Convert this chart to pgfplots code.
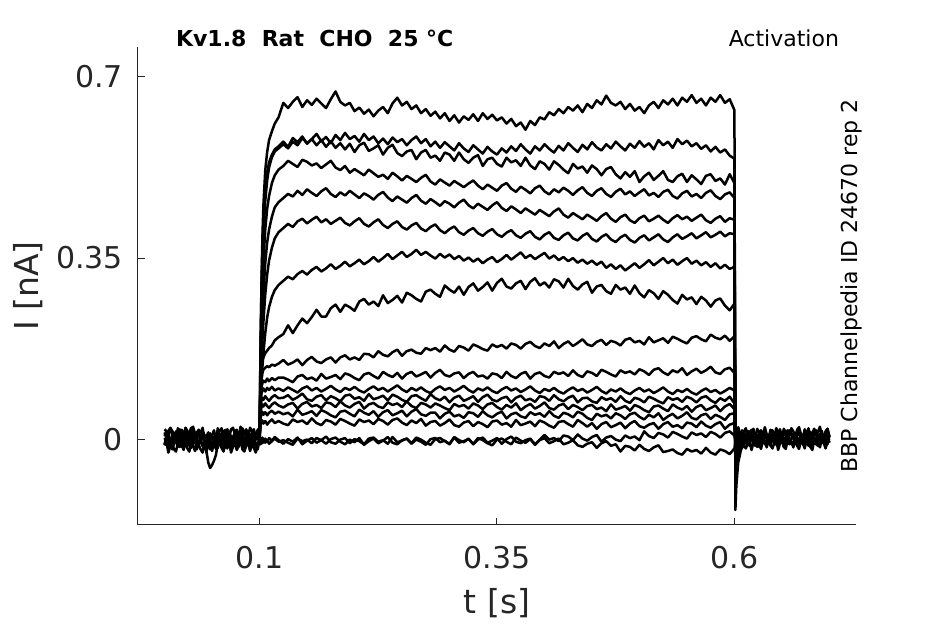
\documentclass[border=0pt]{standalone}
\usepackage{pgfplots}
\pgfplotsset{compat=1.18}
\usepackage{pgfplotstable}
\usepackage{fontspec}
\setmainfont{DejaVu Sans}
\definecolor{axgray}{RGB}{38,38,38}

% baseline before the pulse (t in ms, I in pA)
\pgfplotstableread[row sep=\\]{
t p1 p2 p3 p4 p5 p6 p7\\
0 13 6 -12 2 -10 -12 19\\
2 2 16 8 -7 4 -6 15\\
4 16 -1 -8 -14 10 -26 5\\
6 21 -5 -3 -3 -4 -13 22\\
8 8 7 3 -20 1 -9 16\\
10 1 12 -11 -6 -8 -20 8\\
12 15 -4 6 0 9 -24 2\\
14 7 9 0 -15 6 -7 21\\
16 19 2 -9 -9 -5 -15 13\\
18 -1 -7 -15 -1 12 -10 18\\
20 10 10 2 -18 -1 -21 7\\
22 18 13 5 -4 -7 -4 22\\
24 4 1 -5 3 4 -18 16\\
26 12 6 -12 -12 10 -24 5\\
28 22 -5 8 -17 -10 -9 19\\
30 5 15 -1 -7 3 -13 24\\
32 1 -1 -8 -3 7 -23 11\\
34 13 4 3 -20 -4 -6 4\\
36 18 10 -14 -6 -8 -12 18\\
38 2 -4 0 0 9 -20 10\\
40 15 13 6 -14 1 -26 22\\
42 8 7 -9 -9 6 -7 2\\
44 -9 -10 -11 -26 -13 -23 5\\
46 8 -16 -3 -9 4 -45 13\\
48 11 1 -20 -12 -10 -56 -1\\
50 -1 4 -6 -23 -16 -50 7\\
52 4 -6 1 -6 -1 -42 17\\
54 -7 -13 -14 -19 -5 -31 0\\
56 21 15 -11 -17 -7 -9 4\\
58 5 6 -1 -6 10 -4 16\\
60 10 -1 3 0 4 -17 21\\
62 16 10 -14 -20 -4 -24 5\\
64 2 -7 0 -7 -10 -10 18\\
66 19 7 6 -3 9 -18 11\\
68 13 13 -8 -14 1 -6 2\\
70 4 -2 -3 -18 6 -26 19\\
72 -2 4 -12 -1 -5 -15 22\\
74 15 12 5 -9 10 -7 10\\
76 18 -5 2 -4 4 -21 15\\
78 8 9 -9 -15 -7 -13 4\\
80 1 16 8 2 7 -3 24\\
82 21 1 -5 -12 12 -20 8\\
84 12 -4 -11 -18 -1 -24 13\\
86 5 6 0 -3 -8 -12 19\\
88 16 10 6 -7 6 -7 5\\
90 -1 -7 -14 -17 -2 -23 22\\
92 13 7 -1 0 10 -10 16\\
94 19 13 3 -6 -10 -17 7\\
96 4 -1 -8 -14 1 -26 1\\
98 10 4 -12 -20 9 -9 18\\
100 18 -5 5 -1 -5 -6 21\\
}\pre

% baseline after the pulse
\pgfplotstableread[row sep=\\]{
t q1 q2 q3 q4 q5 q6\\
602 -1 7 5 -2 6 -8\\
604 13 0 -1 -19 23 9\\
606 5 -9 -10 -5 10 -5\\
608 17 8 -16 2 4 -11\\
610 -3 11 1 -13 15 4\\
612 8 -1 4 -18 21 0\\
614 16 4 -6 -8 1 -10\\
616 2 -7 -13 -4 14 7\\
618 10 13 7 -21 18 1\\
620 20 -3 -2 -7 7 -7\\
622 3 2 -9 -1 3 -13\\
624 -1 8 2 -15 20 6\\
626 11 -6 -15 -10 12 -2\\
628 16 11 -1 -19 17 3\\
630 0 5 5 -2 6 -8\\
632 13 -4 -10 -5 23 7\\
634 6 -10 -4 -16 9 1\\
636 -3 7 4 1 3 -10\\
638 14 10 -13 -12 18 4\\
640 17 0 1 -18 14 9\\
642 5 -7 8 -7 4 -4\\
644 10 13 -7 -1 21 -11\\
646 -1 4 -12 -21 15 3\\
648 19 -3 -2 -8 7 -5\\
650 3 8 2 -4 1 7\\
652 8 -9 -15 -15 20 -13\\
654 14 5 -1 -19 12 -2\\
656 0 11 5 -2 17 6\\
658 17 -4 -9 -10 6 -8\\
660 11 2 -4 -5 21 0\\
662 2 10 -13 -16 15 10\\
664 -4 -7 4 1 4 -7\\
666 13 7 1 -13 18 -11\\
668 16 14 -10 -19 23 1\\
670 6 -1 7 -4 10 6\\
672 -1 -6 -6 -8 3 -10\\
674 19 4 -12 -18 17 3\\
676 10 8 -1 -1 9 -4\\
678 3 -9 5 -7 21 -13\\
680 14 5 -15 -15 1 4\\
682 -3 11 -2 -21 12 7\\
684 11 -3 2 -2 20 -5\\
686 17 2 -9 -10 6 0\\
688 2 -7 -13 -5 14 -11\\
690 8 10 4 -16 24 9\\
692 16 7 -4 -1 7 -7\\
694 -1 -4 1 -7 3 -2\\
696 13 13 -10 -18 15 4\\
698 20 0 7 -4 20 -10\\
700 5 -6 -7 1 4 7\\
}\post

\begin{document}
\begin{tikzpicture}
\begin{axis}[name=ax,
  scale only axis, width=359pt, height=239pt,
  xmin=-28, xmax=728, ymin=-166, ymax=758,
  axis x line*=bottom, axis y line*=left,
  axis line style={axgray, line width=0.5pt, -},
  tick style={axgray, line width=0.5pt},
  tick align=inside, major tick length=3.5pt,
  xtick={100,350,600}, xticklabels={0.1,0.35,0.6},
  ytick={0,350,700}, yticklabels={0,0.35,0.7},
  tick label style={font=\fontsize{15}{18}\selectfont, text=axgray},
  x tick label style={yshift=-7pt},
  y tick label style={xshift=-4pt},
  xlabel={t [s]}, ylabel={I [nA]},
  label style={font=\fontsize{16.5}{20}\selectfont, text=axgray},
  x label style={at={(axis description cs:0.5,-0.1632)}, anchor=center},
  y label style={at={(axis description cs:-0.1532,0.5)}, anchor=center},
  every axis plot post/.append style={black, solid, line width=1.25pt, line join=round, mark=none},
  no markers,
]
% baselines
\addplot table[x=t,y=p1]{\pre};
\addplot table[x=t,y=p2]{\pre};
\addplot table[x=t,y=p3]{\pre};
\addplot table[x=t,y=p4]{\pre};
\addplot table[x=t,y=p5]{\pre};
\addplot table[x=t,y=p6]{\pre};
\addplot table[x=t,y=p7]{\pre};
\addplot table[x=t,y=q1]{\post};
\addplot table[x=t,y=q2]{\post};
\addplot table[x=t,y=q3]{\post};
\addplot table[x=t,y=q4]{\post};
\addplot table[x=t,y=q5]{\post};
\addplot table[x=t,y=q6]{\post};
% T1
\addplot coordinates {(100,5)(101,180)(102,300)(103,390)(104,450)(106,520)(108,555)(110,578)(113,595)(116,610)(120,622)(125,650)(130,640)(135,652)(140,661)(145,642)(150,655)(155,646)(160,658)(165,649)(170,640)(175,657)(180,672)(185,652)(190,645)(195,650)(200,634)(205,641)(210,629)(215,637)(220,624)(225,635)(230,642)(235,630)(240,649)(245,660)(250,645)(255,652)(260,638)(265,645)(270,630)(275,638)(280,625)(285,633)(290,620)(295,630)(300,615)(305,626)(310,612)(315,624)(320,617)(325,628)(330,615)(335,630)(340,619)(345,627)(350,616)(355,622)(360,610)(365,619)(370,605)(375,612)(380,598)(385,615)(390,607)(395,622)(400,618)(405,632)(410,626)(415,638)(420,630)(425,642)(430,635)(435,645)(440,632)(445,648)(450,640)(455,655)(460,647)(465,664)(470,650)(475,645)(480,652)(485,638)(490,648)(495,635)(500,642)(505,630)(510,645)(515,652)(520,640)(525,655)(530,647)(535,658)(540,645)(545,660)(550,652)(555,665)(560,650)(565,658)(570,645)(575,660)(580,652)(585,665)(590,650)(595,657)(600,636)(601,-137)(602,-90)(604,-45)(607,-20)(611,-8)(616,0)};
% T2
\addplot coordinates {(100,-3)(101,170)(102,290)(103,370)(104,420)(106,480)(108,515)(110,535)(113,550)(116,560)(120,566)(125,575)(130,565)(135,582)(140,574)(145,585)(150,571)(155,580)(160,590)(165,576)(170,584)(175,572)(180,588)(185,578)(190,592)(195,580)(200,586)(205,575)(210,590)(215,578)(220,585)(225,572)(230,581)(235,570)(240,583)(245,574)(250,580)(255,568)(260,578)(265,585)(270,572)(275,580)(280,566)(285,575)(290,563)(295,574)(300,566)(305,558)(310,572)(315,562)(320,555)(325,568)(330,560)(335,552)(340,565)(345,556)(350,550)(355,562)(360,554)(365,566)(370,557)(375,570)(380,560)(385,552)(390,566)(395,558)(400,570)(405,561)(410,554)(415,567)(420,558)(425,572)(430,563)(435,555)(440,569)(445,560)(450,574)(455,564)(460,558)(465,570)(470,562)(475,575)(480,566)(485,558)(490,571)(495,563)(500,576)(505,565)(510,572)(515,560)(520,578)(525,568)(530,575)(535,563)(540,580)(545,570)(550,577)(555,566)(560,572)(565,561)(570,568)(575,556)(580,565)(585,554)(590,560)(595,548)(600,542)(601,-110)(602,-70)(604,-35)(607,-15)(611,-5)(616,2)};
% T3
\addplot coordinates {(100,4)(101,150)(102,260)(103,340)(104,395)(106,460)(108,500)(110,525)(113,545)(116,556)(120,562)(125,570)(130,562)(135,575)(140,568)(145,582)(150,572)(155,580)(160,568)(165,578)(170,565)(175,576)(180,563)(185,572)(190,560)(195,571)(200,555)(205,568)(210,573)(215,557)(220,562)(225,568)(230,550)(235,563)(240,569)(245,553)(250,547)(255,556)(260,559)(265,541)(270,554)(275,559)(280,544)(285,548)(290,538)(295,554)(300,550)(305,538)(310,554)(315,541)(320,534)(325,544)(330,549)(335,528)(340,541)(345,544)(350,532)(355,527)(360,544)(365,535)(370,539)(375,528)(380,544)(385,529)(390,522)(395,537)(400,532)(405,521)(410,537)(415,530)(420,521)(425,514)(430,532)(435,523)(440,527)(445,515)(450,529)(455,522)(460,510)(465,522)(470,526)(475,512)(480,504)(485,516)(490,507)(495,518)(500,497)(505,508)(510,515)(515,501)(520,509)(525,518)(530,501)(535,497)(540,508)(545,513)(550,497)(555,510)(560,502)(565,493)(570,509)(575,512)(580,499)(585,504)(590,492)(595,512)(600,495)(601,-95)(602,-60)(604,-30)(607,-18)(611,-6)(616,-2)};
% T4
\addplot coordinates {(100,-6)(101,130)(102,220)(103,290)(104,340)(106,405)(108,445)(110,470)(113,495)(116,510)(120,521)(125,528)(130,538)(135,532)(140,526)(145,540)(150,536)(155,529)(160,533)(165,524)(170,531)(175,538)(180,525)(185,520)(190,528)(195,515)(200,522)(205,516)(210,510)(215,521)(220,514)(225,507)(230,511)(235,503)(240,515)(245,508)(250,500)(255,509)(260,503)(265,497)(270,505)(275,511)(280,498)(285,492)(290,502)(295,496)(300,490)(305,499)(310,493)(315,487)(320,494)(325,500)(330,490)(335,483)(340,492)(345,486)(350,480)(355,490)(360,495)(365,484)(370,478)(375,488)(380,482)(385,475)(390,485)(395,490)(400,479)(405,473)(410,483)(415,477)(420,486)(425,480)(430,472)(435,481)(440,487)(445,476)(450,470)(455,480)(460,485)(465,474)(470,468)(475,478)(480,484)(485,473)(490,479)(495,470)(500,477)(505,483)(510,471)(515,476)(520,468)(525,478)(530,482)(535,470)(540,465)(545,475)(550,480)(555,469)(560,474)(565,466)(570,476)(575,481)(580,470)(585,464)(590,473)(595,477)(600,466)(601,-80)(602,-50)(604,-25)(607,-12)(611,-4)(616,3)};
% T5
\addplot coordinates {(100,2)(101,110)(102,180)(103,235)(104,280)(106,340)(108,380)(110,405)(113,430)(116,448)(120,458)(125,466)(130,474)(135,469)(140,480)(145,472)(150,483)(155,476)(160,470)(165,479)(170,485)(175,474)(180,468)(185,477)(190,471)(195,480)(200,473)(205,466)(210,475)(215,470)(220,463)(225,472)(230,478)(235,467)(240,460)(245,469)(250,463)(255,457)(260,466)(265,472)(270,461)(275,455)(280,464)(285,458)(290,451)(295,460)(300,455)(305,448)(310,457)(315,463)(320,452)(325,446)(330,455)(335,449)(340,443)(345,452)(350,458)(355,447)(360,441)(365,450)(370,444)(375,437)(380,446)(385,440)(390,434)(395,443)(400,437)(405,431)(410,440)(415,446)(420,434)(425,428)(430,437)(435,431)(440,425)(445,434)(450,428)(455,422)(460,431)(465,437)(470,426)(475,420)(480,429)(485,434)(490,423)(495,418)(500,427)(505,432)(510,421)(515,426)(520,432)(525,424)(530,418)(535,427)(540,433)(545,425)(550,430)(555,422)(560,428)(565,434)(570,423)(575,418)(580,426)(585,431)(590,420)(595,427)(600,424)(601,-70)(602,-45)(604,-22)(607,-10)(611,-3)(616,0)};
% T6
\addplot coordinates {(100,-1)(101,90)(102,145)(103,190)(104,225)(106,280)(108,318)(110,345)(113,370)(116,388)(120,400)(125,408)(130,416)(135,410)(140,421)(145,426)(150,417)(155,424)(160,430)(165,419)(170,425)(175,416)(180,422)(185,428)(190,418)(195,413)(200,421)(205,427)(210,416)(215,411)(220,419)(225,425)(230,414)(235,408)(240,416)(245,421)(250,410)(255,405)(260,413)(265,418)(270,407)(275,402)(280,410)(285,415)(290,404)(295,398)(300,406)(305,411)(310,400)(315,395)(320,403)(325,408)(330,398)(335,393)(340,401)(345,406)(350,396)(355,391)(360,399)(365,404)(370,394)(375,389)(380,397)(385,402)(390,391)(395,386)(400,395)(405,400)(410,389)(415,385)(420,394)(425,399)(430,388)(435,384)(440,393)(445,398)(450,387)(455,382)(460,391)(465,396)(470,386)(475,381)(480,390)(485,395)(490,385)(495,380)(500,389)(505,394)(510,384)(515,390)(520,396)(525,386)(530,381)(535,390)(540,396)(545,387)(550,392)(555,398)(560,388)(565,394)(570,400)(575,390)(580,395)(585,401)(590,392)(595,398)(600,396)(601,-60)(602,-38)(604,-18)(607,-8)(611,-2)(616,2)};
% T7
\addplot coordinates {(100,3)(101,70)(102,110)(103,140)(104,165)(106,205)(108,235)(110,255)(113,275)(116,288)(120,298)(125,306)(130,314)(135,309)(140,319)(145,325)(150,318)(155,327)(160,333)(165,324)(170,330)(175,338)(180,329)(185,335)(190,343)(195,334)(200,340)(205,347)(210,338)(215,344)(220,352)(225,343)(230,350)(235,358)(240,348)(245,355)(250,362)(255,352)(260,358)(265,366)(270,356)(275,362)(280,355)(285,349)(290,358)(295,351)(300,357)(305,348)(310,354)(315,345)(320,351)(325,343)(330,349)(335,340)(340,347)(345,352)(350,342)(355,348)(360,356)(365,347)(370,354)(375,361)(380,350)(385,356)(390,348)(395,354)(400,360)(405,349)(410,355)(415,346)(420,352)(425,344)(430,350)(435,341)(440,347)(445,339)(450,345)(455,337)(460,343)(465,331)(470,338)(475,329)(480,336)(485,326)(490,333)(495,340)(500,331)(505,338)(510,346)(515,336)(520,343)(525,350)(530,340)(535,347)(540,337)(545,344)(550,350)(555,339)(560,345)(565,336)(570,342)(575,333)(580,340)(585,330)(590,337)(595,329)(600,333)(601,-45)(602,-28)(604,-14)(607,-6)(611,0)(616,-2)};
% T8
\addplot coordinates {(100,-2)(101,90)(102,130)(103,150)(104,158)(106,166)(108,171)(110,176)(113,181)(116,191)(120,197)(125,203)(130,220)(135,205)(140,220)(145,233)(150,224)(155,236)(160,250)(165,237)(170,237)(175,253)(180,260)(185,246)(190,260)(195,255)(200,248)(205,266)(210,271)(215,260)(220,266)(225,257)(230,278)(235,263)(240,269)(245,277)(250,264)(255,283)(260,278)(265,271)(270,266)(275,285)(280,289)(285,281)(290,275)(295,297)(300,289)(305,283)(310,295)(315,279)(320,294)(325,301)(330,287)(335,294)(340,303)(345,287)(350,302)(355,310)(360,295)(365,291)(370,301)(375,306)(380,290)(385,304)(390,311)(395,297)(400,303)(405,293)(410,309)(415,305)(420,293)(425,310)(430,296)(435,289)(440,299)(445,304)(450,283)(455,295)(460,298)(465,286)(470,281)(475,298)(480,289)(485,293)(490,281)(495,297)(500,282)(505,274)(510,288)(515,282)(520,271)(525,286)(530,279)(535,269)(540,262)(545,279)(550,270)(555,274)(560,261)(565,275)(570,268)(575,256)(580,268)(585,272)(590,258)(595,249)(600,262)(601,-35)(602,-22)(604,-10)(607,-4)(611,2)(616,0)};
% T9
\addplot coordinates {(100,1)(101,90)(102,115)(103,128)(104,134)(106,138)(108,141)(110,139)(113,144)(116,142)(120,146)(125,153)(130,144)(135,148)(140,154)(145,143)(150,153)(155,159)(160,150)(165,147)(170,154)(175,158)(180,148)(185,158)(190,162)(195,154)(200,158)(205,153)(210,165)(215,164)(220,158)(225,170)(230,163)(235,160)(240,168)(245,173)(250,161)(255,170)(260,173)(265,167)(270,165)(275,176)(280,172)(285,176)(290,169)(295,181)(300,173)(305,169)(310,180)(315,177)(320,171)(325,183)(330,179)(335,174)(340,171)(345,183)(350,178)(355,182)(360,175)(365,185)(370,182)(375,175)(380,184)(385,188)(390,180)(395,176)(400,185)(405,180)(410,189)(415,176)(420,184)(425,189)(430,180)(435,186)(440,193)(445,183)(450,180)(455,188)(460,192)(465,182)(470,190)(475,187)(480,181)(485,192)(490,195)(495,187)(500,190)(505,183)(510,197)(515,187)(520,191)(525,195)(530,186)(535,198)(540,194)(545,189)(550,185)(555,196)(560,199)(565,193)(570,189)(575,202)(580,196)(585,193)(590,200)(595,190)(600,199)(601,-25)(602,-15)(604,-6)(607,-2)(611,3)(616,1)};
% T10
\addplot coordinates {(100,-4)(101,80)(102,100)(103,108)(104,113)(106,110)(108,117)(110,112)(113,118)(116,114)(120,119)(125,119)(130,115)(135,110)(140,121)(145,124)(150,116)(155,119)(160,113)(165,126)(170,117)(175,120)(180,124)(185,116)(190,127)(195,124)(200,118)(205,114)(210,125)(215,128)(220,122)(225,117)(230,130)(235,124)(240,120)(245,128)(250,117)(255,126)(260,130)(265,121)(270,125)(275,130)(280,119)(285,128)(290,134)(295,124)(300,121)(305,127)(310,129)(315,118)(320,126)(325,130)(330,121)(335,123)(340,117)(345,127)(350,125)(355,118)(360,130)(365,122)(370,118)(375,126)(380,130)(385,117)(390,126)(395,129)(400,122)(405,119)(410,130)(415,126)(420,129)(425,122)(430,133)(435,124)(440,120)(445,131)(450,128)(455,122)(460,134)(465,130)(470,125)(475,121)(480,133)(485,128)(490,131)(495,125)(500,135)(505,131)(510,124)(515,134)(520,137)(525,129)(530,124)(535,133)(540,129)(545,137)(550,124)(555,131)(560,136)(565,128)(570,133)(575,140)(580,129)(585,126)(590,135)(595,138)(600,128)(601,-18)(602,-10)(604,-4)(607,0)(611,2)(616,-1)};
% C1
\addplot coordinates {(100,0)(101,70)(102,88)(103,94)(104,98)(106,92)(108,99)(110,95)(113,101)(116,94)(120,98)(125,93)(130,100)(135,95)(140,90)(145,98)(150,102)(155,94)(160,99)(165,92)(170,97)(175,103)(180,96)(185,91)(190,99)(195,95)(200,101)(205,94)(210,90)(215,97)(220,102)(225,95)(230,99)(235,92)(240,98)(245,104)(250,96)(255,91)(260,99)(265,94)(270,100)(275,93)(280,89)(285,97)(290,102)(295,95)(300,99)(305,92)(310,97)(315,103)(320,95)(325,90)(330,98)(335,94)(340,100)(345,93)(350,89)(355,96)(360,101)(365,94)(370,98)(375,91)(380,96)(385,102)(390,94)(395,89)(400,97)(405,93)(410,99)(415,92)(420,88)(425,95)(430,100)(435,93)(440,97)(445,90)(450,95)(455,101)(460,93)(465,88)(470,96)(475,92)(480,98)(485,91)(490,87)(495,94)(500,99)(505,92)(510,96)(515,89)(520,94)(525,100)(530,92)(535,87)(540,95)(545,91)(550,97)(555,90)(560,86)(565,93)(570,98)(575,91)(580,95)(585,88)(590,93)(595,99)(600,94)(601,-12)(602,-6)(604,-2)(607,1)(611,3)(616,0)};
% C2
\addplot coordinates {(100,5)(101,60)(102,74)(103,80)(104,76)(106,83)(108,78)(110,74)(113,81)(116,85)(120,79)(125,80)(130,85)(135,76)(140,81)(145,88)(150,77)(155,74)(160,82)(165,85)(170,75)(175,83)(180,79)(185,73)(190,84)(195,86)(200,78)(205,81)(210,74)(215,87)(220,77)(225,80)(230,84)(235,75)(240,86)(245,82)(250,76)(255,72)(260,83)(265,85)(270,79)(275,74)(280,87)(285,79)(290,75)(295,82)(300,71)(305,80)(310,84)(315,74)(320,78)(325,83)(330,72)(335,81)(340,86)(345,76)(350,73)(355,79)(360,82)(365,71)(370,80)(375,84)(380,75)(385,78)(390,72)(395,83)(400,81)(405,74)(410,85)(415,77)(420,73)(425,80)(430,84)(435,71)(440,79)(445,80)(450,73)(455,70)(460,81)(465,76)(470,79)(475,72)(480,83)(485,74)(490,70)(495,80)(500,77)(505,71)(510,82)(515,78)(520,73)(525,69)(530,81)(535,76)(540,79)(545,72)(550,82)(555,78)(560,71)(565,80)(570,83)(575,75)(580,70)(585,79)(590,74)(595,82)(600,69)(601,-8)(602,-3)(604,1)(607,3)(611,-1)(616,1)};
% C3
\addplot coordinates {(100,-5)(101,50)(102,62)(103,67)(104,63)(106,69)(108,64)(110,60)(113,67)(116,71)(120,65)(125,61)(130,67)(135,70)(140,59)(145,68)(150,72)(155,63)(160,66)(165,60)(170,71)(175,69)(180,62)(185,73)(190,65)(195,61)(200,68)(205,72)(210,59)(215,67)(220,70)(225,63)(230,60)(235,71)(240,66)(245,69)(250,62)(255,73)(260,64)(265,60)(270,70)(275,67)(280,61)(285,69)(290,65)(295,60)(300,56)(305,68)(310,63)(315,66)(320,59)(325,69)(330,65)(335,58)(340,67)(345,70)(350,62)(355,57)(360,66)(365,61)(370,69)(375,56)(380,63)(385,68)(390,59)(395,64)(400,71)(405,60)(410,57)(415,65)(420,68)(425,58)(430,66)(435,62)(440,56)(445,64)(450,66)(455,58)(460,61)(465,54)(470,67)(475,57)(480,60)(485,64)(490,55)(495,66)(500,62)(505,56)(510,52)(515,63)(520,65)(525,59)(530,54)(535,67)(540,61)(545,57)(550,64)(555,53)(560,62)(565,66)(570,56)(575,60)(580,65)(585,54)(590,63)(595,68)(600,58)(601,-6)(602,-2)(604,2)(607,-1)(611,2)(616,0)};
% C4
\addplot coordinates {(100,3)(101,40)(102,48)(103,53)(104,47)(106,52)(108,46)(110,51)(113,55)(116,49)(120,53)(125,48)(130,51)(135,44)(140,57)(145,47)(150,50)(155,54)(160,45)(165,56)(170,52)(175,46)(180,42)(185,53)(190,55)(195,49)(200,44)(205,57)(210,51)(215,47)(220,54)(225,43)(230,52)(235,56)(240,46)(245,50)(250,55)(255,44)(260,53)(265,58)(270,48)(275,45)(280,51)(285,51)(290,40)(295,49)(300,53)(305,44)(310,47)(315,41)(320,52)(325,50)(330,43)(335,54)(340,46)(345,42)(350,49)(355,53)(360,40)(365,48)(370,51)(375,44)(380,41)(385,52)(390,47)(395,50)(400,43)(405,54)(410,45)(415,41)(420,51)(425,48)(430,42)(435,53)(440,49)(445,41)(450,37)(455,49)(460,44)(465,47)(470,40)(475,50)(480,46)(485,39)(490,48)(495,51)(500,43)(505,38)(510,47)(515,42)(520,50)(525,37)(530,44)(535,49)(540,40)(545,45)(550,52)(555,41)(560,38)(565,46)(570,49)(575,39)(580,47)(585,43)(590,37)(595,48)(600,50)(601,-5)(602,-1)(604,3)(607,-2)(611,1)(616,0)};
% C5
\addplot coordinates {(100,-2)(101,28)(102,32)(103,36)(104,30)(106,35)(108,28)(110,33)(113,38)(116,31)(120,35)(125,30)(130,27)(135,38)(140,33)(145,36)(150,29)(155,40)(160,31)(165,27)(170,37)(175,34)(180,28)(185,39)(190,35)(195,30)(200,26)(205,38)(210,33)(215,36)(220,29)(225,39)(230,35)(235,28)(240,37)(245,40)(250,32)(255,27)(260,36)(265,31)(270,39)(275,26)(280,33)(285,35)(290,26)(295,31)(300,38)(305,27)(310,24)(315,32)(320,35)(325,25)(330,33)(335,29)(340,23)(345,34)(350,36)(355,28)(360,31)(365,24)(370,37)(375,27)(380,30)(385,34)(390,25)(395,36)(400,32)(405,26)(410,22)(415,33)(420,35)(425,29)(430,24)(435,37)(440,31)(445,24)(450,31)(455,20)(460,29)(465,33)(470,23)(475,27)(480,32)(485,21)(490,30)(495,35)(500,25)(505,22)(510,28)(515,31)(520,20)(525,29)(530,33)(535,24)(540,27)(545,21)(550,32)(555,30)(560,23)(565,34)(570,26)(575,22)(580,29)(585,33)(590,20)(595,28)(600,31)(601,-4)(602,0)(604,-3)(607,2)(611,-1)(616,1)};
% B1
\addplot coordinates {(100,4)(101,2)(102,-4)(103,3)(104,-6)(106,1)(108,-5)(110,2)(113,-3)(116,4)(120,-2)(125,-9)(130,0)(135,-5)(140,3)(145,-10)(150,-3)(155,2)(160,-7)(165,-2)(170,5)(175,-6)(180,-9)(185,-1)(190,2)(195,-8)(200,0)(205,-4)(210,-10)(215,1)(220,3)(225,-5)(230,-2)(235,-9)(240,4)(245,-6)(250,-3)(255,1)(260,-8)(265,3)(270,-1)(275,-7)(280,-11)(285,0)(290,2)(295,-4)(300,-9)(305,4)(310,-2)(315,-6)(320,1)(325,-10)(330,-1)(335,3)(340,-7)(345,-3)(350,2)(355,-9)(360,0)(365,5)(370,-5)(375,-8)(380,-2)(385,1)(390,-10)(395,-1)(400,8)(405,-1)(410,2)(415,-4)(420,7)(425,5)(430,-2)(435,9)(440,1)(445,-3)(450,4)(455,8)(460,-5)(465,3)(470,6)(475,-1)(480,-4)(485,7)(490,2)(495,5)(500,-2)(505,15)(510,6)(515,2)(520,12)(525,9)(530,3)(535,14)(540,10)(545,5)(550,1)(555,13)(560,8)(565,11)(570,4)(575,14)(580,10)(585,3)(590,12)(595,15)(600,7)(601,2)(602,-3)(604,4)(607,-2)(611,1)(616,-1)};
% B2
\addplot coordinates {(100,-6)(101,-10)(102,-3)(103,-8)(104,0)(106,-7)(108,-2)(110,-9)(113,-4)(116,1)(120,-5)(125,-2)(130,-7)(135,-11)(140,1)(145,-4)(150,-1)(155,-8)(160,2)(165,-2)(170,-9)(175,0)(180,3)(185,-5)(190,-10)(195,-1)(200,-6)(205,2)(210,-11)(215,-4)(220,1)(225,-8)(230,-3)(235,4)(240,-7)(245,-10)(250,-2)(255,1)(260,-9)(265,-1)(270,-5)(275,-11)(280,0)(285,2)(290,-6)(295,-3)(300,-10)(305,3)(310,-7)(315,-4)(320,0)(325,-9)(330,2)(335,-2)(340,-8)(345,-12)(350,-1)(355,1)(360,-5)(365,-10)(370,3)(375,-3)(380,-7)(385,0)(390,-11)(395,-2)(400,2)(405,-8)(410,-4)(415,1)(420,-10)(425,-7)(430,-2)(435,-12)(440,-15)(445,-9)(450,-6)(455,-17)(460,-8)(465,-4)(470,-13)(475,-10)(480,-24)(485,-13)(490,-15)(495,-22)(500,-11)(505,-19)(510,-23)(515,-16)(520,-12)(525,-25)(530,-23)(535,-20)(540,-27)(545,-30)(550,-19)(555,-24)(560,-21)(565,-28)(570,-17)(575,-26)(580,-30)(585,-20)(590,-23)(595,-29)(600,-18)(601,-8)(602,-12)(604,-6)(607,-3)(611,0)(616,-2)};
\end{axis}
\node[anchor=base west, font=\bfseries\fontsize{11}{13}\selectfont] at ([xshift=15.5pt]ax.north west) {Kv1.8\ \ Rat\ \ CHO\ \ 25 °C};
\node[anchor=base east, font=\fontsize{11}{13}\selectfont] at ([xshift=-5pt]ax.north east) {Activation};
\node[rotate=90, anchor=base, font=\fontsize{11}{13}\selectfont] at ([xshift=0.5pt]ax.east) {BBP Channelpedia ID 24670 rep 2};
\pgfresetboundingbox
\path[use as bounding box] ([shift={(-69pt,-49.5pt)}]ax.south west) rectangle ([shift={(44.5pt,23.5pt)}]ax.north east);
\end{tikzpicture}
\end{document}
